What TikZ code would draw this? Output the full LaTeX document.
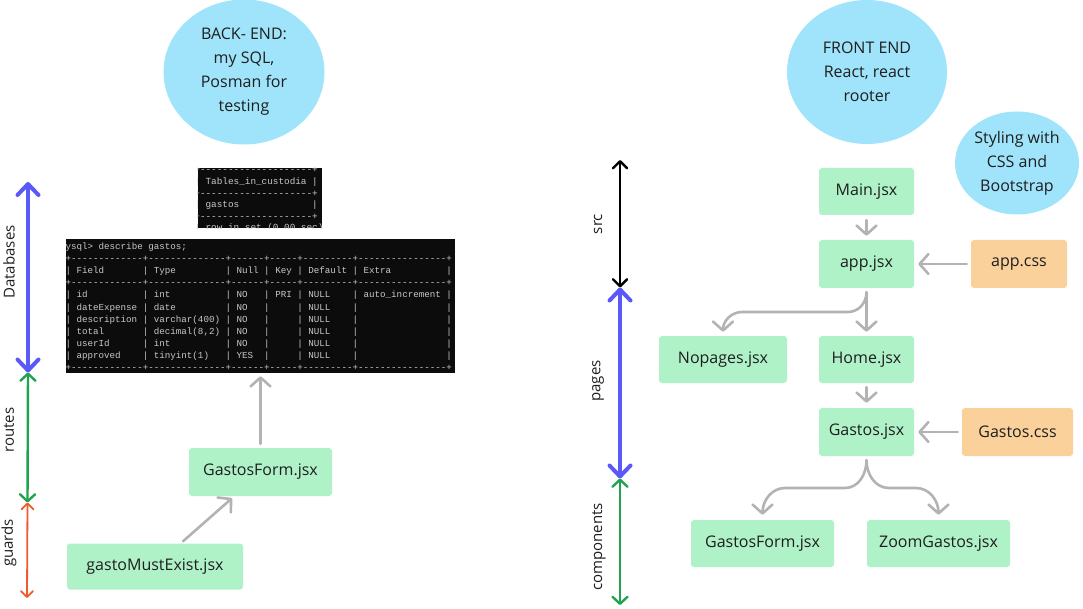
\documentclass[tikz,border=0pt]{standalone}
\usepackage{fontspec}
\setmainfont{Open Sans}
\setmonofont{Liberation Mono}
\usetikzlibrary{arrows.meta,shapes.geometric,calc}
\definecolor{circ}{HTML}{A0E4FB}
\definecolor{grn}{HTML}{B0F2C8}
\definecolor{org}{HTML}{FBD19B}
\definecolor{txt}{HTML}{1E1E1E}
\definecolor{arr}{HTML}{B3B3B3}
\definecolor{term}{HTML}{0C0C0C}
\definecolor{ttxt}{HTML}{C8C8C8}
\definecolor{blu}{HTML}{5A58F6}
\definecolor{grnA}{HTML}{1FA34F}
\definecolor{orgA}{HTML}{EE5A2C}
\tikzset{
  box/.style={rectangle, rounded corners=3pt, fill=grn, minimum height=47pt, inner sep=0pt, text=txt, font=\fontsize{16}{24}\selectfont},
  cssbox/.style={box, fill=org},
  bubble/.style={ellipse, fill=circ, inner sep=0pt, text=txt, align=center, font=\fontsize{16}{24}\selectfont},
  garrow/.style={draw=arr, line width=2.6pt, line cap=round, line join=round, -{Straight Barb[length=9pt,width=20pt,round]}},
  dimarrow/.style={line cap=round},
  side/.style={rotate=90, text=txt, inner sep=0pt, font=\fontsize{15}{17}\selectfont},
  termbox/.style={rectangle, fill=term, inner sep=0pt},
  tline/.style={anchor=base west, inner sep=0pt, text=ttxt},
}
\begin{document}
\begin{tikzpicture}[x=1pt,y=-1pt]
\useasboundingbox (0,0) rectangle (1083,609);

% bubbles
\node[bubble, minimum width=161pt, minimum height=145pt] (backend) at (244,72) {BACK- END:\\my SQL,\\Posman for\\testing};
\node[bubble, minimum width=160pt, minimum height=144pt] (frontend) at (867,72) {FRONT END\\React, react\\rooter};
\node[bubble, minimum width=124pt, minimum height=103pt] (styling) at (1017,163) {Styling with\\CSS and\\Bootstrap};

% terminals
\node[termbox, minimum width=124pt, minimum height=60pt] (tables) at (260,198) {};
\node[termbox, minimum width=389pt, minimum height=134pt] (desc) at (260.5,306) {};
\begin{scope}
\clip (tables.south west) rectangle (tables.north east);
\foreach \l [count=\i from 0] in {
  {+--------------------+},
  {|~Tables\_in\_custodia~|},
  {+--------------------+},
  {|~gastos~~~~~~~~~~~~~|},
  {+--------------------+},
  {1~row~in~set~(0.00~sec)}}
  \node[tline, font=\ttfamily\fontsize{9.35}{11}\selectfont] (tl\i) at (194.2,173+11.6*\i) {\l};
\end{scope}
\begin{scope}
\clip (desc.south west) rectangle (desc.north east);
\node[tline, font=\ttfamily\fontsize{9.2}{12}\selectfont] (dp) at (59.8,250) {mysql>~describe~gastos;};
\foreach \l [count=\i from 1] in {
  {+-------------+--------------+------+-----+---------+----------------+},
  {|~Field~~~~~~~|~Type~~~~~~~~~|~Null~|~Key~|~Default~|~Extra~~~~~~~~~~|},
  {+-------------+--------------+------+-----+---------+----------------+},
  {|~id~~~~~~~~~~|~int~~~~~~~~~~|~NO~~~|~PRI~|~NULL~~~~|~auto\_increment~|},
  {|~dateExpense~|~date~~~~~~~~~|~NO~~~|~~~~~|~NULL~~~~|~~~~~~~~~~~~~~~~|},
  {|~description~|~varchar(400)~|~NO~~~|~~~~~|~NULL~~~~|~~~~~~~~~~~~~~~~|},
  {|~total~~~~~~~|~decimal(8,2)~|~NO~~~|~~~~~|~NULL~~~~|~~~~~~~~~~~~~~~~|},
  {|~userId~~~~~~|~int~~~~~~~~~~|~NO~~~|~~~~~|~NULL~~~~|~~~~~~~~~~~~~~~~|},
  {|~approved~~~~|~tinyint(1)~~~|~YES~~|~~~~~|~NULL~~~~|~~~~~~~~~~~~~~~~|},
  {+-------------+--------------+------+-----+---------+----------------+}}
  \node[tline, font=\ttfamily\fontsize{9.2}{12}\selectfont] (dl\i) at (65.3,250+12*\i) {\l};
\end{scope}

% left boxes
\node[box, minimum width=143pt, minimum height=48pt] (gform1) at (260.5,472) {GastosForm.jsx};
\node[box, minimum width=176pt, minimum height=46pt] (gme) at (155,566.5) {gastoMustExist.jsx};

% right boxes
\node[box, minimum width=95pt] (main) at (866.5,191.5) {Main.jsx};
\node[box, minimum width=95pt, minimum height=48pt] (app) at (866.5,264) {app.jsx};
\node[cssbox, minimum width=96pt, minimum height=48pt] (appcss) at (1019,264) {app.css};
\node[box, minimum width=128pt] (nopages) at (723,359.5) {Nopages.jsx};
\node[box, minimum width=95pt] (home) at (866.5,359.5) {Home.jsx};
\node[box, minimum width=95pt, minimum height=48pt] (gastos) at (866.5,432) {Gastos.jsx};
\node[cssbox, minimum width=111pt, minimum height=48pt] (gastoscss) at (1017.5,432) {Gastos.css};
\node[box, minimum width=143pt] (gform2) at (762.5,543.5) {GastosForm.jsx};
\node[box, minimum width=143pt] (zoomg) at (938.5,543.5) {ZoomGastos.jsx};

% gray connectors
\draw[garrow] ([yshift=4pt]gform1.north) -- ($(gform1.north |- desc.south)+(0,3)$);
\draw[garrow] ([xshift=28pt,yshift=2pt]gme.north) -- ([xshift=-28.5pt,yshift=-2pt]gform1.south);
\draw[garrow] ([yshift=-5pt]main.south) -- ([yshift=4pt]app.north);
\draw[garrow] ([xshift=-4pt]appcss.west) -- ([xshift=4pt]app.east);
\draw[garrow] ([yshift=-4pt]app.south) -- ([yshift=4pt]home.north);
\coordinate (ba) at (848,312);
\coordinate (bb) at (742,312);
\draw[garrow] ([yshift=-4pt]app.south) to[out=-90,in=0] (ba) -- (bb) to[out=180,in=90] ([yshift=4pt]nopages.north);
\draw[garrow] ([yshift=-4pt]home.south) -- ([yshift=5pt]gastos.north);
\draw[garrow] ([xshift=-4pt]gastoscss.west) -- ([xshift=4pt]gastos.east);
\coordinate (gl1) at (845,488);
\coordinate (gl2) at (785,488);
\coordinate (gr1) at (889,488);
\coordinate (gr2) at (916,488);
\draw[garrow] ([yshift=-4pt]gastos.south) to[out=-90,in=0] (gl1) -- (gl2) to[out=180,in=90] ([yshift=5pt]gform2.north);
\draw[garrow] ([yshift=-4pt]gastos.south) to[out=-90,in=180] (gr1) -- (gr2) to[out=0,in=90] ([yshift=5pt]zoomg.north);

% left scale arrows
\coordinate (la) at (28,182);
\coordinate (lb) at (28,372.5);
\coordinate (lc) at (27.5,502.5);
\coordinate (ld) at (27,598);
\draw[dimarrow, draw=blu, line width=4pt, arrows={Straight Barb[length=11pt,width=21pt,round]-Straight Barb[length=11pt,width=21pt,round]}] (la) -- (lb);
\draw[dimarrow, draw=grnA, line width=2.4pt, arrows={Straight Barb[length=7pt,width=15pt,round]-Straight Barb[length=7pt,width=15pt,round]}] (lb) -- (lc);
\draw[dimarrow, draw=orgA, line width=1.8pt, arrows={Straight Barb[length=6pt,width=12pt,round]-Straight Barb[length=6pt,width=12pt,round]}] (lc) -- (ld);
\node[side] (tdb) at (9,262) {Databases};
\node[side] (trt) at (9,430) {routes};
\node[side] (tgd) at (9,543) {guards};

% right scale arrows
\coordinate (ra) at (620,160);
\coordinate (rb) at (620,287.5);
\coordinate (rc) at (620,478.5);
\coordinate (rd) at (620,605);
\draw[dimarrow, draw=black, line width=2.4pt, arrows={Straight Barb[length=7pt,width=14pt,round]-Straight Barb[length=7pt,width=14pt,round]}] (ra) -- (rb);
\draw[dimarrow, draw=blu, line width=4pt, arrows={Straight Barb[length=11pt,width=21pt,round]-Straight Barb[length=11pt,width=21pt,round]}] (rb) -- (rc);
\draw[dimarrow, draw=grnA, line width=2.4pt, arrows={Straight Barb[length=7pt,width=15pt,round]-Straight Barb[length=7pt,width=15pt,round]}] (rc) -- (rd);
\node[side] (tsrc) at (598,224) {src};
\node[side] (tpg) at (598,381) {pages};
\node[side] (tcp) at (599,547) {components};
\end{tikzpicture}
\end{document}
